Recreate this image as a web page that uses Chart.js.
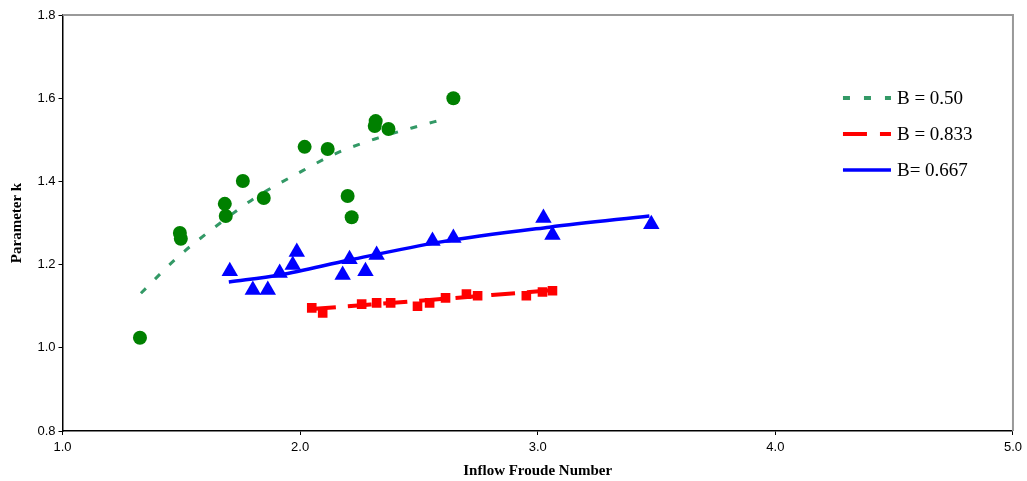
<!DOCTYPE html>
<html><head><meta charset="utf-8">
<script src="https://cdn.jsdelivr.net/npm/chart.js@4/dist/chart.umd.min.js"></script>
<style>html,body{margin:0;padding:0;background:#fff}</style>
</head><body>
<canvas id="c" width="1027" height="481"></canvas>
<script>
// ---- data ----
const seriesLabels = ['B = 0.50', 'B = 0.833', 'B= 0.667'];

const greenF = [1.326, 1.494, 1.498, 1.683, 1.687, 1.759, 1.847, 2.019, 2.116, 2.200, 2.217, 2.314, 2.318, 2.372, 2.645];
const greenK = [1.024, 1.276, 1.262, 1.346, 1.317, 1.401, 1.360, 1.483, 1.478, 1.365, 1.314, 1.533, 1.545, 1.526, 1.600];
const greenTrendF = [1.330, 1.485, 1.641, 1.809, 1.986, 2.154, 2.326, 2.498, 2.595];
const greenTrendK = [1.131, 1.218, 1.290, 1.360, 1.418, 1.468, 1.504, 1.533, 1.548];

const redF = [2.049, 2.095, 2.259, 2.322, 2.381, 2.494, 2.545, 2.612, 2.700, 2.747, 2.952, 3.020, 3.062];
const redK = [1.096, 1.084, 1.105, 1.108, 1.108, 1.100, 1.108, 1.120, 1.129, 1.125, 1.125, 1.134, 1.137];
const redTrendF = [2.049, 2.545, 3.070];
const redTrendK = [1.093, 1.115, 1.139];

const blueF = [1.704, 1.801, 1.864, 1.914, 1.969, 1.986, 2.179, 2.208, 2.275, 2.322, 2.557, 2.645, 3.024, 3.062, 3.478];
const blueK = [1.184, 1.139, 1.139, 1.180, 1.199, 1.230, 1.175, 1.213, 1.184, 1.223, 1.257, 1.264, 1.312, 1.271, 1.297];
const blueTrendF = [1.700, 1.914, 2.208, 2.587, 3.049, 3.470];
const blueTrendK = [1.158, 1.175, 1.211, 1.254, 1.290, 1.317];

const xTickValues = [1, 2, 3, 4, 5];
const xTickLabels = ['1.0', '2.0', '3.0', '4.0', '5.0'];
const yTickValues = [0.8, 1.0, 1.2, 1.4, 1.6, 1.8];
const yTickLabels = ['0.8', '1.0', '1.2', '1.4', '1.6', '1.8'];

const xTitle = 'Inflow Froude Number';
const yTitle = 'Parameter k';

// ---- helpers ----
const pts = (xs, ys) => xs.map((x, i) => ({x: x, y: ys[i]}));

const GREEN_PT = '#008000', GREEN_LN = '#339966', RED = '#FF0000', BLUE = '#0000FF';

const legendStyles = [
  {color: GREEN_LN, width: 4, dash: [7, 14]},
  {color: RED, width: 4, dash: [24, 13]},
  {color: BLUE, width: 3.5, dash: []}
];

const frameAndLegend = {
  id: 'frameAndLegend',
  beforeDatasetsDraw(chart) {
    const {ctx, chartArea: a} = chart;
    ctx.save();
    ctx.strokeStyle = '#999999';
    ctx.lineWidth = 2;
    ctx.beginPath();
    ctx.moveTo(a.left, a.top);
    ctx.lineTo(a.right, a.top);
    ctx.lineTo(a.right, a.bottom);
    ctx.stroke();
    ctx.restore();
  },
  afterDraw(chart) {
    const {ctx, chartArea: a} = chart;
    ctx.save();
    const x0 = a.right - 170;
    const y0 = a.top + 83;
    const rowH = 36;
    ctx.font = '19px "Liberation Serif", "Times New Roman", serif';
    ctx.fillStyle = '#000';
    ctx.textBaseline = 'middle';
    seriesLabels.forEach((lab, i) => {
      const st = legendStyles[i];
      const y = y0 + i * rowH;
      ctx.beginPath();
      ctx.strokeStyle = st.color;
      ctx.lineWidth = st.width;
      ctx.setLineDash(st.dash);
      ctx.lineCap = 'butt';
      ctx.moveTo(x0, y);
      ctx.lineTo(x0 + 48, y);
      ctx.stroke();
      ctx.setLineDash([]);
      ctx.fillText(lab, x0 + 54, y + 1);
    });
    ctx.restore();
  }
};

const tickFont = {family: '"Liberation Sans", Arial, sans-serif', size: 13};
const titleFont = {family: '"Liberation Serif", "Times New Roman", serif', size: 15, weight: 'bold'};

new Chart(document.getElementById('c'), {
  type: 'scatter',
  data: {
    datasets: [
      {label: seriesLabels[0] + ' pts', data: pts(greenF, greenK), pointStyle: 'circle', pointRadius: 7, pointHoverRadius: 7,
       backgroundColor: GREEN_PT, borderColor: GREEN_PT, borderWidth: 0, showLine: false, order: 1},
      {label: seriesLabels[1] + ' pts', data: pts(redF, redK), pointStyle: 'rect', pointRadius: 6.8, pointHoverRadius: 6.8,
       backgroundColor: RED, borderColor: RED, borderWidth: 0, showLine: false, order: 1},
      {label: seriesLabels[2] + ' pts', data: pts(blueF, blueK), pointStyle: 'triangle', pointRadius: 9.5, pointHoverRadius: 9.5,
       backgroundColor: BLUE, borderColor: BLUE, borderWidth: 0, showLine: false, order: 1},
      {label: seriesLabels[0], data: pts(greenTrendF, greenTrendK), showLine: true, borderColor: GREEN_LN, borderWidth: 3,
       borderDash: [7, 13], pointRadius: 0, tension: 0.4, cubicInterpolationMode: 'monotone', fill: false, order: 2},
      {label: seriesLabels[1], data: pts(redTrendF, redTrendK), showLine: true, borderColor: RED, borderWidth: 4,
       borderDash: [24, 12], pointRadius: 0, tension: 0.4, fill: false, order: 2},
      {label: seriesLabels[2], data: pts(blueTrendF, blueTrendK), showLine: true, borderColor: BLUE, borderWidth: 3.5,
       pointRadius: 0, tension: 0.4, cubicInterpolationMode: 'monotone', fill: false, order: 2}
    ]
  },
  options: {
    responsive: false,
    animation: false,
    devicePixelRatio: 1,
    layout: {padding: {top: 15, right: 13, left: 0, bottom: 0}},
    plugins: {legend: {display: false}, tooltip: {enabled: false}},
    scales: {
      x: {
        type: 'linear', position: 'bottom', min: 1, max: 5,
        afterBuildTicks: s => { s.ticks = xTickValues.map(v => ({value: v})); },
        afterFit: s => { s.height = 50; },
        ticks: {font: tickFont, color: '#000', padding: 5, maxRotation: 0,
                callback: v => xTickLabels[xTickValues.indexOf(v)]},
        grid: {drawOnChartArea: false, drawTicks: true, tickLength: 4, color: '#000', lineWidth: 1},
        border: {display: true, color: '#000', width: 1.5},
        title: {display: true, text: xTitle, font: titleFont, color: '#000', padding: {top: 0, bottom: 1}}
      },
      y: {
        type: 'linear', position: 'left', min: 0.8, max: 1.8,
        afterBuildTicks: s => { s.ticks = yTickValues.map(v => ({value: v})); },
        afterFit: s => { s.width = 62.5; },
        ticks: {font: tickFont, color: '#000', padding: 3,
                callback: v => yTickLabels[yTickValues.findIndex(t => Math.abs(t - v) < 1e-9)]},
        grid: {drawOnChartArea: false, drawTicks: true, tickLength: 4, color: '#000', lineWidth: 1},
        border: {display: true, color: '#000', width: 1.5},
        title: {display: true, text: yTitle, font: titleFont, color: '#000', padding: {top: 8, bottom: 0}}
      }
    }
  },
  plugins: [frameAndLegend]
});
</script>
</body></html>
